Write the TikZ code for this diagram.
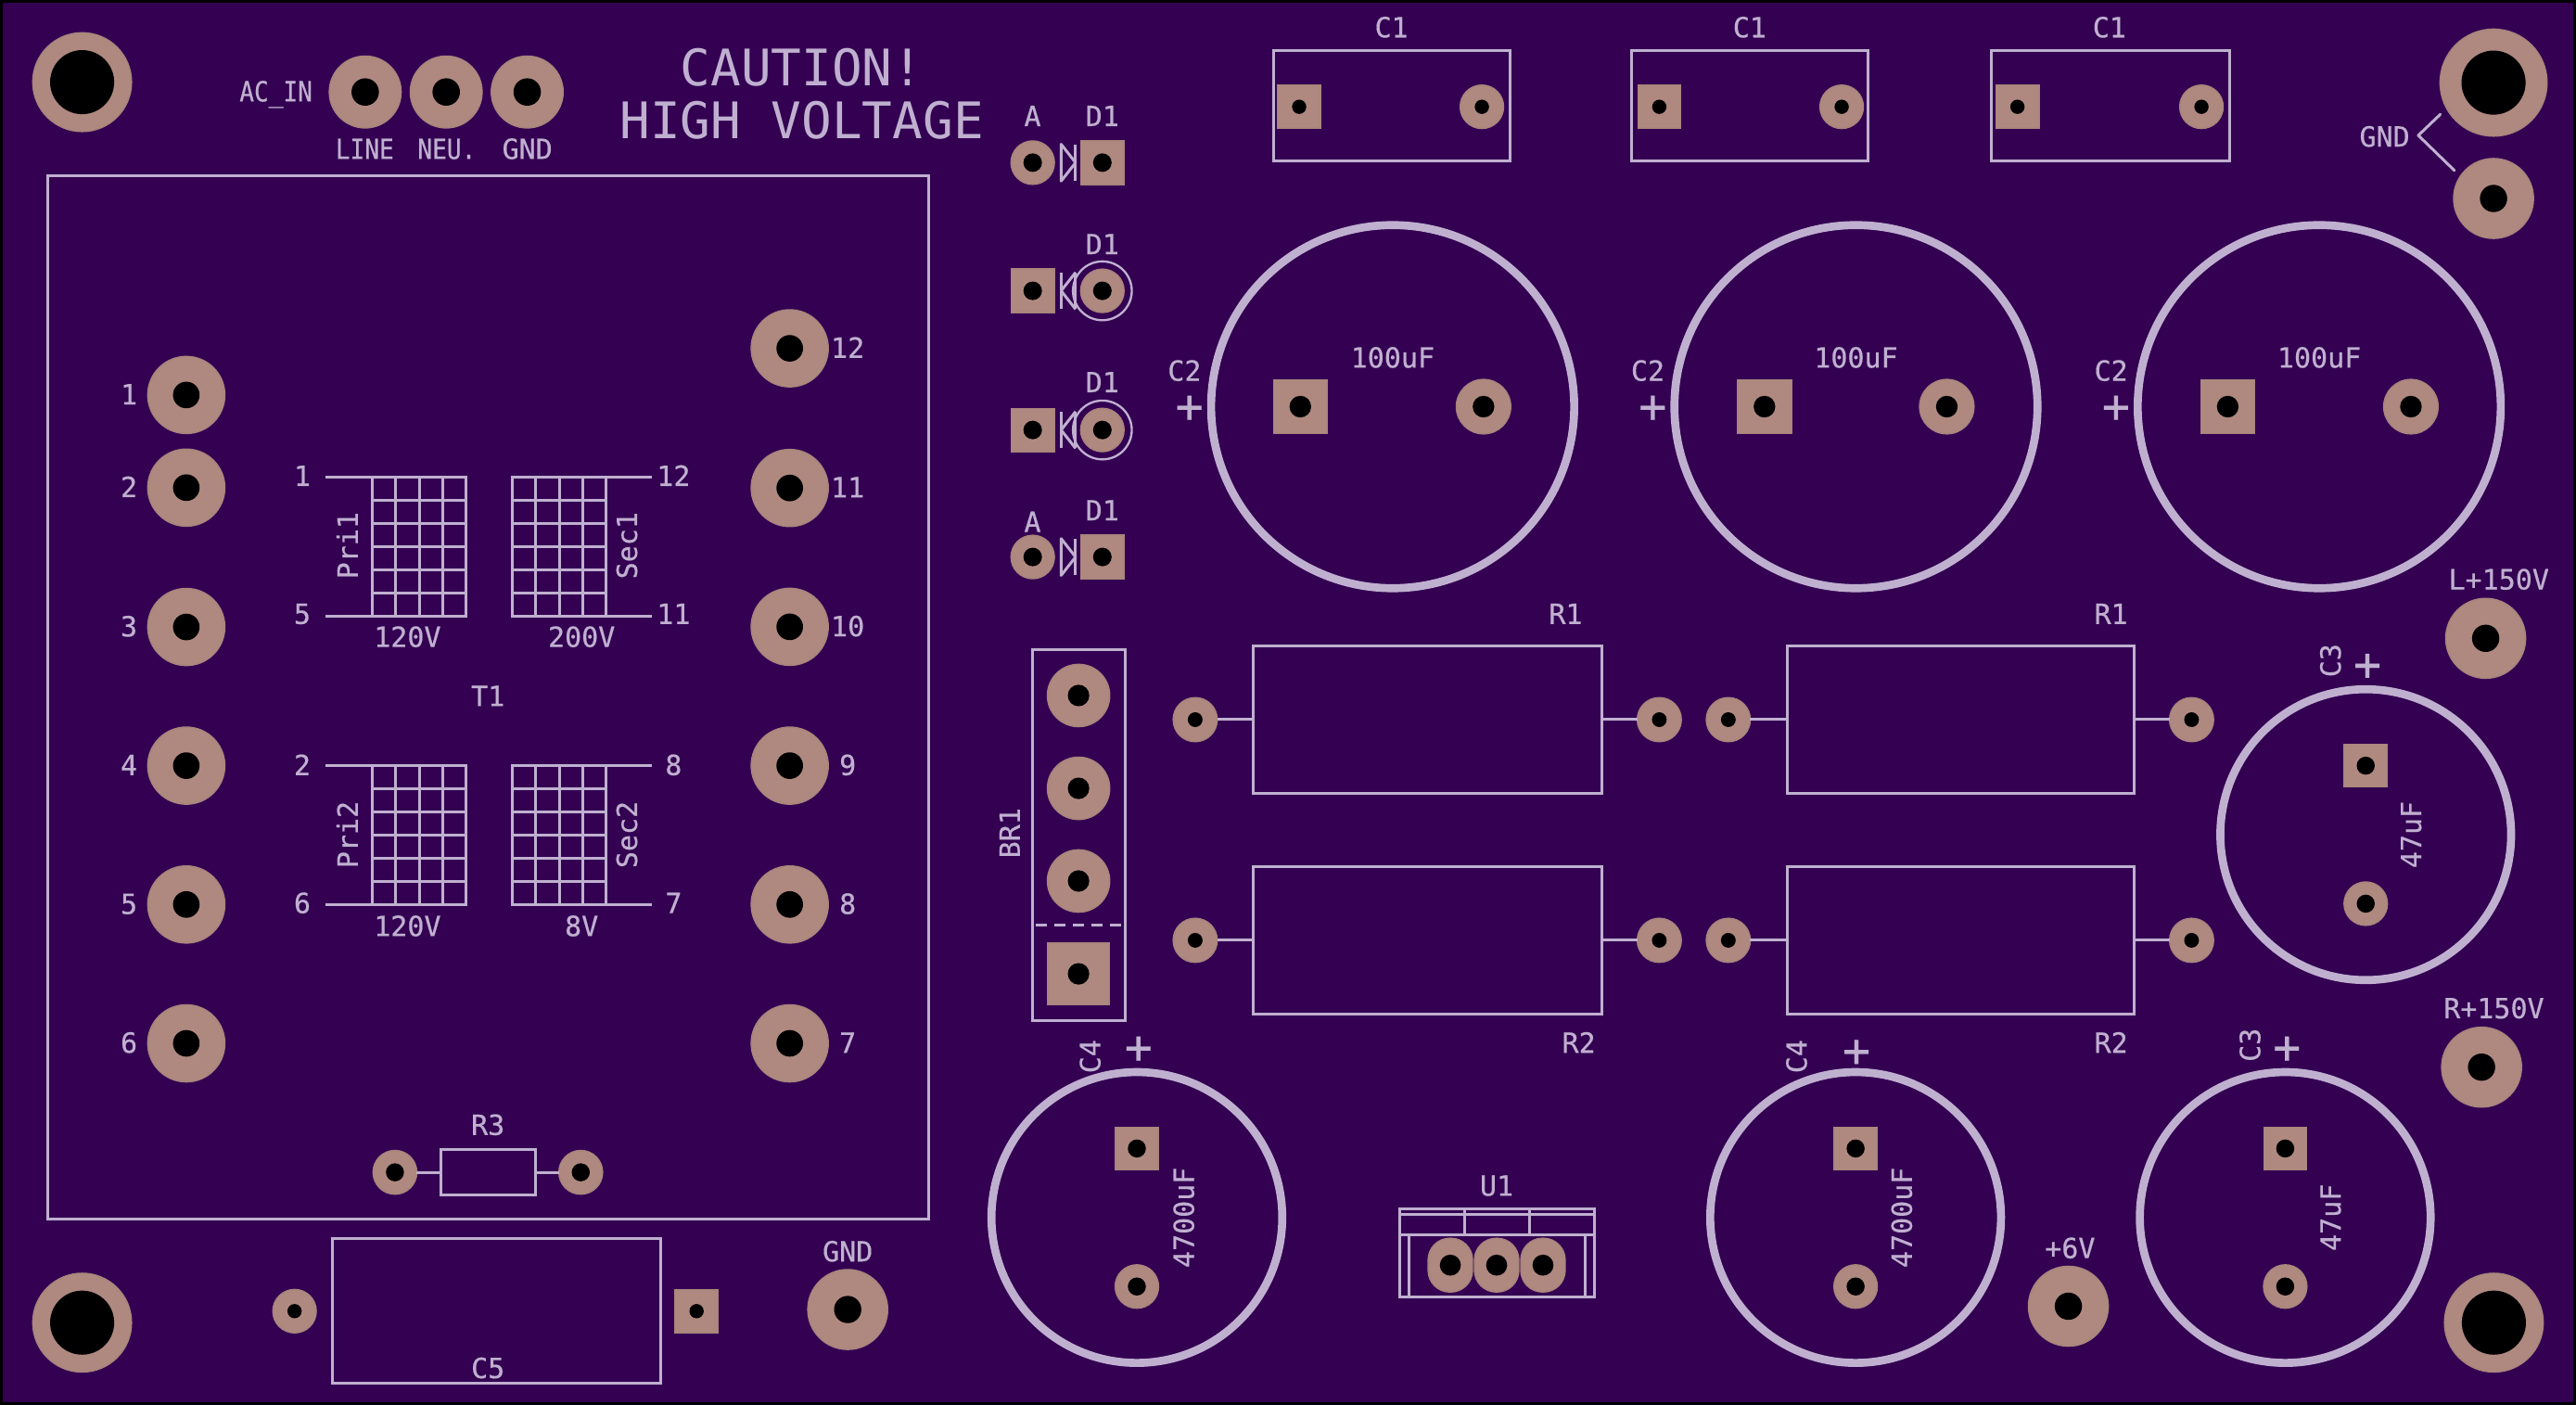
\documentclass[tikz,border=0pt]{standalone}
\usepackage{fontspec}
\newfontfamily\pcbfont{DejaVu Sans Mono}[FakeBold=0.5]
\newfontfamily\pcbnarrow{DejaVu Sans Mono}[FakeStretch=0.87,FakeBold=0.5]
\newfontfamily\pcbtitle{DejaVu Sans Mono}
\definecolor{boardc}{RGB}{51,0,82}
\definecolor{silkc}{RGB}{192,176,208}
\definecolor{padc}{RGB}{175,137,128}
\definecolor{rimc}{RGB}{170,133,125}
\def\uu{0.5315pt}
\tikzset{
  silk/.style={draw=silkc,line width=0.9pt},
  silkbox/.style={silk,rectangle,inner sep=0pt,outer sep=0pt},
  bigring/.style={draw=silkc,line width=2.6pt,circle,inner sep=0pt,outer sep=0pt},
  thinring/.style={draw=silkc,line width=0.7pt,circle,inner sep=0pt,outer sep=0pt},
  roundpad/.style={circle,fill=padc,draw=rimc,line width=0.5pt,inner sep=0pt,outer sep=0pt},
  squarepad/.style={rectangle,fill=padc,draw=rimc,line width=0.5pt,inner sep=0pt,outer sep=0pt},
  ovalpad/.style={rectangle,rounded corners=7pt,fill=padc,draw=rimc,line width=0.5pt,inner sep=0pt,outer sep=0pt,minimum width=26.9*\uu,minimum height=32.6*\uu},
  drill/.style={circle,fill=black,inner sep=0pt,outer sep=0pt},
  pcbtext/.style={text=silkc,inner sep=0pt,outer sep=0pt,text height=6.1pt,text depth=0pt,align=center,font={\pcbfont\fontsize{9}{9}\selectfont}},
  narrowtext/.style={pcbtext,font={\pcbnarrow\fontsize{9}{9}\selectfont}},
  titletext/.style={text=silkc,inner sep=0pt,outer sep=0pt,text height=11.9pt,text depth=0pt,font={\pcbtitle\fontsize{16.3}{17}\selectfont}},
  plustext/.style={text=silkc,inner sep=0pt,outer sep=0pt,font={\pcbfont\fontsize{15}{15}\selectfont}},
}
\newcommand\rpad[5]{\node[roundpad,minimum size=#4*\uu] (#1) at (#2,#3) {};\node[drill,minimum size=#5*\uu] (#1h) at (#2,#3) {};}
\newcommand\spad[5]{\node[squarepad,minimum size=#4*\uu] (#1) at (#2,#3) {};\node[drill,minimum size=#5*\uu] (#1h) at (#2,#3) {};}
\newcommand\opad[3]{\node[ovalpad] (#1) at (#2,#3) {};\node[drill,minimum size=12.8*\uu] (#1h) at (#2,#3) {};}
\newcommand\lbl[4]{\node[pcbtext] (#1) at (#2,#3) {#4};}
\newcommand\lbn[4]{\node[narrowtext] (#1) at (#2,#3) {#4};}
\newcommand\lblr[4]{\node[pcbtext,rotate=90] (#1) at (#2,#3) {#4};}
\newcommand\plusm[3]{\node[plustext] (#1) at (#2,#3) {+};}
% box: name, x-left, y-top, x-right, y-bottom
\newcommand\silkrect[5]{\node[silkbox,minimum width={((#4)-(#2))*\uu},minimum height={((#5)-(#3))*\uu}] (#1) at ({((#2)+(#4))/2},{((#3)+(#5))/2}) {};}
% winding grid: name, x-left, y-top
\newcommand\wind[3]{%
  \silkrect{#1}{#2}{#3}{#2+56.8}{#3+84.5}
  \foreach \ii in {1,2,3} {\draw[silk] ({#2+\ii*14.2},#3) -- ({#2+\ii*14.2},{#3+84.5});}
  \foreach \ii in {1,...,5} {\draw[silk] (#2,{#3+\ii*14.083}) -- ({#2+56.8},{#3+\ii*14.083});}
}
\begin{document}
\begin{tikzpicture}[x=0.5315pt,y=-0.5315pt]
\useasboundingbox (0,0) rectangle (1568,855.1);
\fill[black] (0,0) rectangle (1568,855.1);
\fill[boardc] (1.7,1.7) rectangle (1566.2,853.6);

% mounting holes
\rpad{mh1}{50}{50}{60}{39}
\rpad{mh2}{50}{805}{60}{39}
\rpad{mh3}{1517.8}{50.3}{65}{39}
\rpad{mh4}{1518}{805}{60}{39}

% top-right GND
\rpad{gndb}{1517.8}{120.8}{48.5}{16.6}
\lbl{gndtxt}{1451.5}{83.5}{GND}
\coordinate (gndapex) at (1472,82.4);
\coordinate (gndup) at (1485.4,69.6);
\coordinate (gnddn) at (1494,103.8);
\draw[silk,line cap=round,line join=round] (gndup) -- (gndapex) -- (gnddn);

% AC in
\lbn{acin}{168}{56}{AC\_IN}
\rpad{acl}{222.3}{56}{43.6}{16.7}
\rpad{acn}{271.6}{56}{43.6}{16.7}
\rpad{acg}{320.9}{56}{43.6}{16.7}
\lbn{tline}{222}{91}{LINE}
\lbn{tneu}{272}{91}{NEU.}
\lbl{tgnd}{321}{91}{GND}
\node[titletext] (caut) at (488,41) {CAUTION!};
\node[titletext] (hv) at (488,73) {HIGH VOLTAGE};

% transformer
\silkrect{tbox}{29}{107}{565}{742}
\foreach \n/\y in {1/240.4,2/296.8,3/381.6,4/466,5/550.5,6/635} {
  \rpad{tl\n}{113.4}{\y}{46.8}{16.2}
  \lbl{tlt\n}{78.5}{\y}{\n}
}
\foreach \n/\y in {12/212,11/297,10/381.5,9/466,8/550.5,7/635} {
  \rpad{tr\n}{480.7}{\y}{46.8}{16.2}
  \lbl{trt\n}{516}{\y}{\n}
}
\wind{pri1}{226.8}{290.6}
\wind{sec1}{312}{290.6}
\wind{pri2}{226.8}{466.2}
\wind{sec2}{312}{466.2}
\coordinate (p1a) at (198,290.6); \coordinate (p1b) at (198,375.1);
\coordinate (s1a) at (397,290.6); \coordinate (s1b) at (397,375.1);
\coordinate (p2a) at (198,466.2); \coordinate (p2b) at (198,550.7);
\coordinate (s2a) at (397,466.2); \coordinate (s2b) at (397,550.7);
\draw[silk] (p1a) -- (pri1.north west); \draw[silk] (p1b) -- (pri1.south west);
\draw[silk] (s1a) -- (sec1.north east); \draw[silk] (s1b) -- (sec1.south east);
\draw[silk] (p2a) -- (pri2.north west); \draw[silk] (p2b) -- (pri2.south west);
\draw[silk] (s2a) -- (sec2.north east); \draw[silk] (s2b) -- (sec2.south east);
\lbl{w1}{184}{290}{1} \lbl{w5}{184}{374}{5} \lbl{w12}{410}{290}{12} \lbl{w11}{410}{374}{11}
\lblr{wp1}{212}{332}{Pri1} \lblr{ws1}{382}{332}{Sec1}
\lbl{v120a}{248}{388}{120V} \lbl{v200}{354}{388}{200V}
\lbl{t1}{297}{424}{T1}
\lbl{w2}{184}{466}{2} \lbl{w6}{184}{550}{6} \lbl{w8}{410}{466}{8} \lbl{w7}{410}{550}{7}
\lblr{wp2}{212}{508}{Pri2} \lblr{ws2}{382}{508}{Sec2}
\lbl{v120b}{248}{564}{120V} \lbl{v8}{354}{564}{8V}

% R3
\silkrect{r3}{268.5}{699.5}{325.8}{727.5}
\rpad{r3a}{240.4}{713.5}{26.5}{11}
\rpad{r3b}{353.5}{713.5}{26.5}{11}
\draw[silk] (r3a.east) -- (r3.west);
\draw[silk] (r3.east) -- (r3b.west);
\lbl{r3t}{297}{685}{R3}

% C5
\silkrect{c5}{202.3}{753.8}{402.3}{842}
\rpad{c5a}{179.3}{798}{26.3}{8.7}
\spad{c5b}{424}{798}{26}{8.7}
\lbl{c5t}{297}{833}{C5}
\lbl{gt}{516}{762}{GND}
\rpad{gp}{516}{797}{48.5}{16.6}

% diodes
\lbl{da1}{628.5}{71}{A} \lbl{dd1}{671}{71}{D1}
\rpad{d1a}{628.6}{99}{26.3}{11.3}
\spad{d1k}{671}{99}{26.3}{11.3}
\draw[silk,line join=round] (645.9,87.8) -- (654.7,99) -- (645.9,110.2) -- cycle;
\draw[silk] (654.7,87.8) -- (654.7,110.2);
\lbl{dd2}{671}{149}{D1}
\spad{d2a}{628.6}{177}{26.3}{11.3}
\node[thinring,minimum size=35.8*\uu] (d2r) at (671,177) {};
\rpad{d2k}{671}{177}{26.3}{11.3}
\draw[silk] (645.9,165.8) -- (645.9,188.2);
\draw[silk,line join=round] (654.7,165.8) -- (645.9,177) -- (654.7,188.2);
\draw[silk] (654.7,165.8) -- (654.7,188.2);
\lbl{dd3}{671}{233}{D1}
\spad{d3a}{628.6}{261.7}{26.3}{11.3}
\node[thinring,minimum size=35.8*\uu] (d3r) at (671,261.7) {};
\rpad{d3k}{671}{261.7}{26.3}{11.3}
\draw[silk] (645.9,250.5) -- (645.9,272.9);
\draw[silk,line join=round] (654.7,250.5) -- (645.9,261.7) -- (654.7,272.9);
\draw[silk] (654.7,250.5) -- (654.7,272.9);
\lbl{da4}{628.5}{318}{A} \lbl{dd4}{671}{311}{D1}
\rpad{d4a}{628.6}{339}{26.3}{11.3}
\spad{d4k}{671}{339}{26.3}{11.3}
\draw[silk,line join=round] (645.9,327.8) -- (654.7,339) -- (645.9,350.2) -- cycle;
\draw[silk] (654.7,327.8) -- (654.7,350.2);

% top C1
\foreach \nm/\xa/\xb/\pa/\pb/\tx in {a/775/919/790.8/902/847,b/993/1137/1010/1121/1065,c/1212/1357/1228/1340/1284} {
  \silkrect{c1\nm}{\xa}{31}{\xb}{98}
  \spad{c1\nm s}{\pa}{65}{26}{8.7}
  \rpad{c1\nm r}{\pb}{65}{26.3}{8.7}
  \lbl{c1\nm t}{\tx}{17}{C1}
}

% C2
\foreach \nm/\cx/\pa/\pb/\tcx/\px in {a/847.7/791.5/903/721/724,b/1129.7/1074/1185/1003/1006,c/1411.7/1356/1467.5/1285/1288} {
  \node[bigring,minimum size=221*\uu] (c2\nm) at (\cx,247.5) {};
  \spad{c2\nm s}{\pa}{247.5}{32.7}{13.2}
  \rpad{c2\nm r}{\pb}{247.5}{33}{13.2}
  \lbl{c2\nm v}{\cx}{218}{100uF}
  \lbl{c2\nm t}{\tcx}{226}{C2}
  \plusm{c2\nm p}{\px}{249}
}

% BR1
\silkrect{br}{628.5}{395.5}{685}{621}
\rpad{bra}{656.5}{423.3}{37.8}{13.1}
\rpad{brb}{656.5}{479.8}{37.8}{13.1}
\rpad{brc}{656.5}{536.2}{37.8}{13.1}
\spad{brd}{656.5}{592.7}{37.5}{13.1}
\coordinate (bdl) at (630.5,563);
\coordinate (bdr) at (684,563);
\draw[silk,dash pattern=on 3.6pt off 2.4pt] (bdl) -- (bdr);
\lblr{brt}{615}{507}{BR1}

% resistors
\foreach \nm/\xa/\xb/\pa/\pb/\yy in {aa/763/975/727.5/1010/438,ab/1088/1299/1052/1334/438,ba/763/975/727.5/1010/572.3,bb/1088/1299/1052/1334/572.3} {
  \silkrect{r\nm}{\xa}{\yy-45}{\xb}{\yy+45}
  \rpad{r\nm l}{\pa}{\yy}{26.7}{9}
  \rpad{r\nm r}{\pb}{\yy}{26.7}{9}
  \draw[silk] (r\nm l.east) -- (r\nm.west);
  \draw[silk] (r\nm.east) -- (r\nm r.west);
}
\lbl{r1a}{953}{374}{R1} \lbl{r1b}{1285}{374}{R1}
\lbl{r2a}{961}{635}{R2} \lbl{r2b}{1285}{635}{R2}

% C3 right
\node[bigring,minimum size=177*\uu] (c3a) at (1440,508) {};
\spad{c3as}{1440}{466}{26}{11}
\rpad{c3ar}{1440}{550}{26.3}{11}
\lblr{c3at}{1419}{402}{C3}
\plusm{c3ap}{1441}{406}
\lblr{c3av}{1468}{508}{47uF}
\lbl{lv}{1521}{353}{L+150V}
\rpad{lp}{1513}{388.5}{48.5}{16.6}
\lbl{rv}{1518}{614}{R+150V}
\rpad{rp}{1510.5}{649.5}{48.5}{16.6}

% C3 bottom
\node[bigring,minimum size=177*\uu] (c3b) at (1391,741) {};
\spad{c3bs}{1391}{699}{26}{11}
\rpad{c3br}{1391}{783}{26.3}{11}
\lblr{c3bt}{1370}{636}{C3}
\plusm{c3bp}{1392}{639}
\lblr{c3bv}{1419}{741}{47uF}

% C4
\node[bigring,minimum size=177*\uu] (c4a) at (692,741) {};
\spad{c4as}{692}{699}{26}{11}
\rpad{c4ar}{692}{783}{26.3}{11}
\lblr{c4at}{664}{643}{C4}
\plusm{c4ap}{693}{639}
\lblr{c4av}{721}{741}{4700uF}
\node[bigring,minimum size=177*\uu] (c4b) at (1129.5,741) {};
\spad{c4bs}{1129.5}{699}{26}{11}
\rpad{c4br}{1129.5}{783}{26.3}{11}
\lblr{c4bt}{1094}{643}{C4}
\plusm{c4bp}{1130}{641}
\lblr{c4bv}{1158}{741}{4700uF}

\lbl{p6}{1260}{760}{+6V}
\rpad{p6p}{1259}{795}{48.5}{16.6}

% U1
\silkrect{u1}{852}{736}{970.4}{789.6}
\draw[silk] (852,739) -- (970.4,739);
\draw[silk] (852,751.5) -- (970.4,751.5);
\draw[silk] (891.3,736) -- (891.3,751.5);
\draw[silk] (930.9,736) -- (930.9,751.5);
\draw[silk] (857.4,751.5) -- (857.4,789.6);
\draw[silk] (965,751.5) -- (965,789.6);
\opad{u1a}{882.8}{770}
\opad{u1b}{911}{770}
\opad{u1c}{939.2}{770}
\lbl{u1t}{911}{722}{U1}
\end{tikzpicture}
\end{document}
